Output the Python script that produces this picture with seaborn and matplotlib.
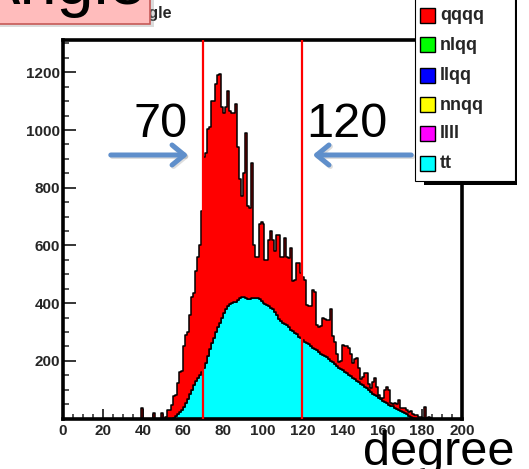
import numpy as np
import pandas as pd
import matplotlib
matplotlib.use("Agg")
import matplotlib.pyplot as plt
from matplotlib.patches import Rectangle, FancyArrowPatch
from matplotlib.ticker import MultipleLocator, FixedLocator
import seaborn as sns

# ---------------------------------------------------------------------------
# Events per 1-degree bin of the angle; the first entry is the bin [39, 40)
# ---------------------------------------------------------------------------
first_bin = 39

# height of the full stack (qqqq drawn on top of tt)
stack_top = [
    35, 0, 0, 0, 0, 0, 20, 0, 0, 0,                      # 39-48
    20, 0, 5, 30, 30, 48, 78, 80, 122, 160,              # 49-58
    165, 250, 290, 300, 360, 420, 435, 510, 560, 600,    # 59-68
    720, 905, 920, 1005, 1010, 1100, 1100, 1160, 1190, 1195,  # 69-78
    1080, 1060, 1080, 1135, 1065, 1060, 1060, 1090, 940, 830,  # 79-88
    770, 850, 990, 735, 730, 885, 600, 560, 560, 675,    # 89-98
    680, 675, 550, 550, 620, 650, 620, 580, 635, 635,    # 99-108
    560, 560, 625, 560, 555, 590, 475, 480, 540, 540,    # 109-118
    505, 490, 480, 395, 390, 390, 445, 440, 325, 318,    # 119-128
    320, 348, 345, 340, 340, 380, 285, 265, 225, 197,    # 129-138
    200, 255, 250, 250, 245, 225, 192, 205, 208, 175,    # 139-148
    137, 145, 158, 156, 120, 105, 125, 141, 110, 80,     # 149-158
    72, 70, 100, 108, 100, 55, 50, 55, 50, 65,           # 159-168
    38, 38, 38, 30, 22, 25, 15, 12, 12, 5,               # 169-178
    5, 3, 40, 3, 5, 3,                                   # 179-184
]

# tt events (bottom layer)
tt_events = [
    0, 0, 0, 0, 0, 0, 0, 0, 0, 0,                        # 39-48
    0, 0, 0, 0, 0, 0, 3, 8, 15, 22,                      # 49-58
    30, 40, 52, 68, 85, 100, 115, 130, 142, 152,         # 59-68
    162, 175, 192, 215, 240, 262, 280, 300, 318, 332,    # 69-78
    350, 365, 378, 390, 398, 400, 403, 405, 412, 418,    # 79-88
    422, 420, 416, 415, 414, 418, 418, 416, 418, 414,    # 89-98
    408, 402, 398, 395, 390, 384, 378, 370, 360, 345,    # 99-108
    338, 332, 328, 325, 316, 308, 302, 298, 292, 284,    # 109-118
    280, 272, 264, 262, 258, 250, 245, 240, 236, 232,    # 119-128
    224, 220, 216, 212, 206, 200, 196, 190, 182, 176,    # 129-138
    172, 168, 160, 156, 150, 146, 141, 136, 130, 125,    # 139-148
    120, 116, 110, 104, 98, 92, 86, 82, 78, 72,          # 149-158
    66, 62, 56, 52, 48, 44, 42, 38, 34, 31,              # 159-168
    27, 23, 20, 14, 8, 4, 2, 0, 0, 0,                    # 169-178
    0, 0, 0, 0, 0, 0,                                    # 179-184
]

processes = ["qqqq", "nlqq", "llqq", "nnqq", "llll", "tt"]
process_colors = ["#ff0000", "#00ff00", "#0000ff", "#ffff00", "#ff00ff", "#00ffff"]
cut_values = [70, 120]
x_ticks = [0, 20, 40, 60, 80, 100, 120, 140, 160, 180, 200]
y_ticks = [200, 400, 600, 800, 1000, 1200]
title_text = "angle"
axis_unit = "degree"

# ---------------------------------------------------------------------------
n_bins = len(stack_top)
top = np.array(stack_top, dtype=float)
tt = np.array(tt_events, dtype=float)
qqqq = top - tt
centers = first_bin + np.arange(n_bins) + 0.5

df = pd.DataFrame({
    "angle": np.concatenate([centers, centers]),
    "events": np.concatenate([qqqq, tt]),
    "process": ["qqqq"] * n_bins + ["tt"] * n_bins,
})
color_of = dict(zip(processes, process_colors))

sns.set_style("white")
plt.rcParams["font.family"] = ["Liberation Sans", "DejaVu Sans"]

W, H = 529, 469
fig = plt.figure(figsize=(W / 100, H / 100), dpi=100)


def fx(x):
    return x / W


def fy(y):
    return 1 - y / H


ax = fig.add_axes([fx(63), fy(418.5), fx(462) - fx(63), fy(40) - fy(418.5)])

sns.histplot(
    data=df, x="angle", weights="events", hue="process",
    hue_order=["qqqq", "tt"], multiple="stack",
    binwidth=1, binrange=(0, 200), element="step",
    palette={"qqqq": color_of["qqqq"], "tt": color_of["tt"]},
    alpha=1, edgecolor="black", linewidth=1.1, legend=False, ax=ax,
)

ax.set_xlim(0, 200)
ax.set_ylim(0, 1312)
ax.set_xlabel("")
ax.set_ylabel("")
ax.xaxis.set_major_locator(FixedLocator(x_ticks))
ax.xaxis.set_minor_locator(MultipleLocator(5))
ax.yaxis.set_major_locator(FixedLocator(y_ticks))
ax.yaxis.set_minor_locator(MultipleLocator(50))
ax.tick_params(axis="x", which="major", direction="in", length=7, width=1.3,
               pad=4, labelsize=11, bottom=True, top=False)
ax.tick_params(axis="x", which="minor", direction="in", length=3.5, width=1.1,
               bottom=True, top=False)
ax.tick_params(axis="y", which="major", direction="in", length=9.5, width=1.3,
               pad=2, labelsize=11, left=True, right=False)
ax.tick_params(axis="y", which="minor", direction="in", length=4.5, width=1.1,
               left=True, right=False)
for lbl in ax.get_xticklabels() + ax.get_yticklabels():
    lbl.set_fontweight("bold")
    lbl.set_family("Liberation Sans")
for sp in ax.spines.values():
    sp.set_color("black")
    sp.set_linewidth(2.6)
    sp.set_visible(True)

# selection cuts
for c in cut_values:
    ax.axvline(c, color="#ff0000", lw=1.6, zorder=3)

# cut labels and arrows
big = dict(family="Liberation Sans", fontsize=35, color="black", va="baseline")
fig.text(fx(161), fy(137), f"{cut_values[0]}", ha="center", **big)
fig.text(fx(347), fy(137), f"{cut_values[1]}", ha="center", **big)
fig.text(fx(363), fy(465), axis_unit, ha="left", **big)

arrow_col = "#5f8fcb"
for (x0, x1) in [(108, 191), (414, 310)]:
    shadow = FancyArrowPatch((fx(x0 + 1.5), fy(156.5)), (fx(x1 + 1.5), fy(156.5)),
                             transform=fig.transFigure,
                             arrowstyle="->,head_length=0.55,head_width=0.45",
                             mutation_scale=16, lw=3.6, color="#7a7a7a",
                             alpha=0.25, capstyle="round", joinstyle="round")
    fig.add_artist(shadow)
    arr = FancyArrowPatch((fx(x0), fy(155)), (fx(x1), fy(155)),
                          transform=fig.transFigure,
                          arrowstyle="->,head_length=0.55,head_width=0.45",
                          mutation_scale=16, lw=3.6, color=arrow_col,
                          capstyle="round", joinstyle="round")
    fig.add_artist(arr)

# histogram title, partly hidden behind the heading box
fig.text(fx(172), fy(18), title_text.capitalize(), ha="right", va="baseline",
         fontsize=11.5, fontweight="bold", family="Liberation Sans", zorder=0.5)

# heading box in the top-left corner
fig.add_artist(Rectangle((fx(-6), fy(27)), fx(160), 27 / H + 0.02,
                         transform=fig.transFigure, facecolor="#9a9a9a",
                         edgecolor="none", alpha=0.35, zorder=1.5))
fig.add_artist(Rectangle((fx(-6), fy(24.5)), fx(156), 30 / H,
                         transform=fig.transFigure, facecolor="#ffbcbc",
                         edgecolor="#c65a58", lw=1.2, zorder=2))
fig.text(fx(146), fy(4), title_text.capitalize(), ha="right", va="baseline",
         fontsize=48, family="Liberation Sans", color="black", zorder=3)

# legend box with ROOT-style shadow
fig.add_artist(Rectangle((fx(424), fy(185)), fx(93), 200 / H,
                         transform=fig.transFigure, facecolor="black",
                         edgecolor="none", zorder=4))
fig.add_artist(Rectangle((fx(415), fy(181.5)), fx(99.5), 200 / H,
                         transform=fig.transFigure, facecolor="white",
                         edgecolor="black", lw=0.8, zorder=4.5))
row_y = [15.5, 45, 75.5, 105, 133.5, 163.5]
for name, col, yc in zip(processes, process_colors, row_y):
    fig.add_artist(Rectangle((fx(419.5), fy(yc + 7.5)), fx(15.5), 15 / H,
                             transform=fig.transFigure, facecolor=col,
                             edgecolor="black", lw=1.0, zorder=5))
    fig.text(fx(440), fy(yc), name, ha="left", va="center", fontsize=13,
             fontweight="bold", family="Liberation Sans", zorder=6)

fig.savefig("out.png", dpi=100)
